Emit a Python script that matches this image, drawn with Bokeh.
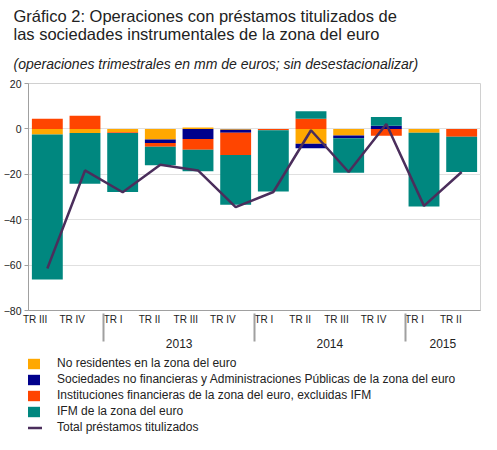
from bokeh.plotting import figure
from bokeh.layouts import column
from bokeh.models import (ColumnDataSource, FactorRange, Range1d, FixedTicker, Title,
                          Legend, LegendItem)
from bokeh.embed import file_html
from bokeh.resources import INLINE

# ---- data ----
quarters = ["TR III", "TR IV", "TR I", "TR II", "TR III", "TR IV",
            "TR I", "TR II", "TR III", "TR IV", "TR I", "TR II"]
years = [" ", " ", "2013", "2013", "2013", "2013",
         "2014", "2014", "2014", "2014", "2015", "2015"]
no_residentes = [-2.5, -1.8, -1.5, -4.7, 0.6, -0.4, 0.0, -6.5, -2.9, 0.0, -1.7, 0.0]
sociedades = [0.0, 0.0, 0.0, -1.5, -4.4, -1.3, 0.0, -2.0, -1.2, 1.4, 0.0, 0.0]
instituciones = [4.5, 5.8, -0.3, -1.7, -4.8, -9.8, -0.6, 4.5, 0.0, -3.0, 0.0, -3.5]
ifm = [-63.8, -22.4, -26.0, -8.1, -9.5, -21.9, -27.0, 3.3, -15.2, 3.8, -32.5, -15.5]
total = [-61.5, -18.3, -27.9, -15.8, -18.3, -34.5, -27.8, -0.6, -19.0, 2.2, -33.9, -19.0]
y_ticks = [-80, -60, -40, -20, 0, 20]

series_names = ["No residentes en la zona del euro",
                "Sociedades no financieras y Administraciones Públicas de la zona del euro",
                "Instituciones financieras de la zona del euro, excluidas IFM",
                "IFM de la zona del euro"]
line_name = "Total préstamos titulizados"
series_vals = [no_residentes, sociedades, instituciones, ifm]
colors = ["#FFA800", "#00008C", "#FF4500", "#00877F"]
line_color = "#4B2E5C"
FONT = "Liberation Sans"

factors = list(zip(years, quarters))
data = {"x": factors, "total": total}
pos_keys, neg_keys = [], []
for i, vals in enumerate(series_vals):
    data[f"p{i}"] = [max(v, 0) for v in vals]
    data[f"n{i}"] = [min(v, 0) for v in vals]
    pos_keys.append(f"p{i}")
    neg_keys.append(f"n{i}")
source = ColumnDataSource(data)

p = figure(width=481, height=353,
           x_range=FactorRange(*factors, factor_padding=0, group_padding=0),
           y_range=Range1d(-80, 20), output_backend="svg", toolbar_location=None,
           min_border_left=0, min_border_right=1, min_border_top=83, min_border_bottom=38)

pos_r = p.vbar_stack(pos_keys, x="x", width=0.82, color=colors, source=source, line_width=0)
neg_r = p.vbar_stack(neg_keys, x="x", width=0.82, color=colors, source=source, line_width=0)
line_r = p.line(x="x", y="total", source=source, line_color=line_color, line_width=2.5)

# axes
p.yaxis.ticker = FixedTicker(ticks=y_ticks)
p.yaxis.major_label_text_font = FONT
p.yaxis.major_label_text_font_size = "10.5px"
p.yaxis.major_label_text_color = "#222222"
p.yaxis.major_label_standoff = 3
p.yaxis.axis_line_color = "#A0A0A0"
p.yaxis.major_tick_line_color = "#A0A0A0"
p.yaxis.major_tick_out = 4
p.yaxis.major_tick_in = 0
p.yaxis.minor_tick_line_color = None

p.xaxis.major_label_text_font = FONT
p.xaxis.major_label_text_font_size = "10px"
p.xaxis.major_label_text_color = "#222222"
p.xaxis.major_label_standoff = 3
p.xaxis.group_text_font = FONT
p.xaxis.group_text_font_size = "12px"
p.xaxis.group_text_color = "#222222"
p.xaxis.group_text_font_style = "normal"
p.xaxis.axis_line_color = "#A0A0A0"
p.xaxis.major_tick_line_color = None
p.xaxis.separator_line_color = "#A0A0A0"
p.xaxis.major_label_orientation = 0

p.xgrid.grid_line_color = None
p.ygrid.grid_line_color = "#E0E0E0"
p.outline_line_color = "#D0D0D0"

# titles (first added is closest to plot)
p.add_layout(Title(text="(operaciones trimestrales en mm de euros; sin desestacionalizar)",
                   text_font=FONT, text_font_size="14px", text_font_style="italic",
                   text_color="#222222", offset=-15, standoff=24, text_line_height=0.9), "above")
p.add_layout(Title(text="Gráfico 2: Operaciones con préstamos titulizados de\nlas sociedades instrumentales de la zona del euro",
                   text_font=FONT, text_font_size="16.5px", text_font_style="normal",
                   text_color="#222222", offset=-15, standoff=-3, text_line_height=1.0), "above")

# legend in its own strip below the chart (placeholder glyphs lie outside the view)
lg = figure(width=481, height=81, x_range=Range1d(0, 1), y_range=Range1d(0, 1),
            output_backend="svg", toolbar_location=None,
            min_border_left=0, min_border_right=0, min_border_top=0, min_border_bottom=0)
lg.axis.visible = False
lg.grid.visible = False
lg.outline_line_color = None
legend_items = []
for name, col in zip(series_names, colors):
    r = lg.vbar(x=[-5], top=[-5], bottom=[-6], width=0.5, color=col, line_width=0)
    legend_items.append(LegendItem(label=name, renderers=[r]))
rl = lg.line(x=[-5, -6], y=[-5, -6], line_color=line_color, line_width=2.5)
legend_items.append(LegendItem(label=line_name, renderers=[rl]))
legend = Legend(items=legend_items, location=(-11, 0), orientation="vertical",
                label_text_font=FONT, label_text_font_size="12px", label_text_color="#222222",
                glyph_width=25, glyph_height=13, spacing=2, label_height=14,
                padding=0, margin=0, border_line_color=None, background_fill_alpha=0,
                label_standoff=15)
lg.add_layout(legend, "center")

open("out.html", "w").write(file_html(column(p, lg, spacing=0), INLINE))
